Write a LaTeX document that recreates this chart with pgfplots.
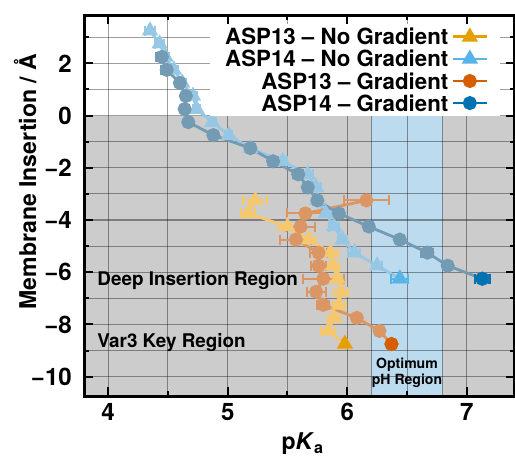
\documentclass[border=0pt]{standalone}
\usepackage{pgfplots}
\pgfplotsset{compat=1.18}
\usepackage{pgfplotstable}
\usepackage{fontspec}
\setmainfont{TeX Gyre Heros}
\definecolor{c13n}{HTML}{E69F00}
\definecolor{c14n}{HTML}{56B4E9}
\definecolor{c13g}{HTML}{D55E00}
\definecolor{c14g}{HTML}{0072B2}
\definecolor{f13n}{HTML}{F5C86E}
\definecolor{f14n}{HTML}{96C8E6}
\definecolor{f13g}{HTML}{DC9664}
\definecolor{f14g}{HTML}{739BB4}
\definecolor{bggrey}{HTML}{CCCCCC}
\definecolor{phblue}{HTML}{BDDBEE}

\pgfplotstableread{
x y ex
4.45 2.25 0.05
4.49 1.75 0.05
4.60 1.25 0.03
4.65 0.75 0.03
4.64 0.25 0.03
4.67 -0.25 0.03
4.88 -0.75 0.03
5.19 -1.25 0.04
5.38 -1.75 0.04
5.59 -2.25 0.04
5.67 -2.75 0.03
5.75 -3.25 0.03
5.93 -3.75 0.03
6.18 -4.25 0.03
6.44 -4.75 0.03
6.67 -5.25 0.05
6.84 -5.75 0.03
7.13 -6.25 0.06
}\tabBgr

\pgfplotstableread{
x y ex
4.35 3.25 0.04
4.43 2.75 0.04
4.48 2.25 0.03
4.55 1.75 0.03
4.62 1.25 0.03
4.71 0.75 0.03
4.74 0.25 0.03
4.87 -0.25 0.03
5.01 -0.75 0.03
5.19 -1.25 0.03
5.46 -1.75 0.04
5.67 -2.25 0.04
5.74 -2.75 0.04
5.75 -3.25 0.04
5.82 -3.75 0.04
5.89 -4.25 0.04
5.96 -4.75 0.04
6.06 -5.25 0.05
6.25 -5.75 0.04
6.44 -6.25 0.07
}\tabBno

\pgfplotstableread{
x y ex
6.16 -3.25 0.19
5.65 -3.75 0.15
5.61 -4.25 0.12
5.57 -4.75 0.13
5.76 -5.25 0.07
5.76 -5.75 0.06
5.80 -6.25 0.17
5.74 -6.75 0.08
5.80 -7.25 0.05
6.08 -7.75 0.03
6.27 -8.25 0.03
6.37 -8.75 0.02
}\tabAgr

\pgfplotstableread{
x y ex
5.23 -3.25 0.10
5.17 -3.75 0.06
5.50 -4.25 0.08
5.68 -4.75 0.06
5.86 -5.25 0.06
5.88 -5.75 0.05
5.92 -6.25 0.05
5.95 -6.75 0.06
5.93 -7.25 0.05
5.89 -7.75 0.05
5.84 -8.25 0.06
5.98 -8.75 0.02
}\tabAno

\tikzset{gridln/.style={black, draw opacity=0.38, line width=0.5pt}}
\pgfplotsset{
  ser/.style={line width=1.4pt, mark options={solid},
    error bars/x dir=both, error bars/x explicit,
    error bars/error bar style={line width=1pt},
    error bars/error mark options={rotate=90, line width=1pt, mark size=2.5pt}},
  tri/.style={mark=triangle*, mark size=3.3pt},
  circ/.style={mark=*, mark size=2.8pt},
}

\begin{document}
\begin{tikzpicture}
\begin{axis}[
  name=ax,
  set layers=standard,
  scale only axis, width=214.5pt, height=190pt,
  xmin=3.8, xmax=7.4, ymin=-10.75, ymax=3.85,
  xtick={4,5,6,7}, minor xtick={4.5,5.5,6.5},
  ytick={-10,-8,-6,-4,-2,0,2}, minor ytick={-9,-7,-5,-3,-1,1,3},
  yticklabels={−10,−8,−6,−4,−2,0,2},
  tick pos=both, xticklabel pos=lower, yticklabel pos=left,
  tick align=inside, major tick length=4.5pt, minor tick length=2.5pt,
  tick style={line width=1pt, black},
  axis line style={line width=1.5pt},
  grid=both,
  major grid style={gridln},
  minor grid style={gridln},
  /pgf/number format/assume math mode=true,
  tick label style={font=\bfseries\fontsize{12}{14}\selectfont},
  xticklabel style={anchor=north, inner sep=0pt, yshift=-3.25pt},
  yticklabel style={anchor=east, inner sep=0pt, xshift=-6pt},
  xlabel={p\textit{K}\textsubscript{a}},
  ylabel={Membrane Insertion / Å},
  label style={font=\bfseries\fontsize{11.5}{13}\selectfont},
  xlabel style={at={(axis description cs:0.508,-0.125)}, anchor=center},
  ylabel style={at={(axis description cs:-0.1375,0.563)}, anchor=center},
  legend style={at={(axis description cs:0.968,0.978)}, anchor=north east,
    draw=none, fill=white, inner xsep=6pt, inner ysep=1pt,
    font=\bfseries\fontsize{11.1}{13}\selectfont,
    nodes={inner sep=1.5pt, text height=8pt, text depth=0pt},
    row sep=0pt},
  legend cell align=right,
  legend plot pos=right,
]
\begin{pgfonlayer}{axis background}
\fill[bggrey] (axis cs:3.8,0) rectangle (axis cs:7.4,-10.75);
\fill[phblue] (axis cs:6.2,0) rectangle (axis cs:6.8,-10.75);
\end{pgfonlayer}
\draw[gridln] (axis cs:6.2,0) -- (axis cs:6.2,-10.75);
\draw[gridln] (axis cs:6.8,0) -- (axis cs:6.8,-10.75);

\addlegendimage{c13n, line width=1.4pt, tri}
\addlegendentry{ASP13 -- No Gradient}
\addlegendimage{c14n, line width=1.4pt, tri}
\addlegendentry{ASP14 -- No Gradient}
\addlegendimage{c13g, line width=1.4pt, circ}
\addlegendentry{ASP13 -- Gradient}
\addlegendimage{c14g, line width=1.4pt, circ}
\addlegendentry{ASP14 -- Gradient}

\addplot[forget plot, f13n, tri, ser] table[x=x, y=y, x error=ex] {\tabAno};
\addplot[forget plot, c13n, tri, only marks, ser] coordinates {(5.98,-8.75) +- (0.02,0)};

\addplot[forget plot, f14n, tri, ser] table[x=x, y=y, x error=ex] {\tabBno};
\addplot[forget plot, c14n, tri, only marks, ser] coordinates {(6.44,-6.25) +- (0.07,0)};

\addplot[forget plot, f13g, circ, ser] table[x=x, y=y, x error=ex] {\tabAgr};
\addplot[forget plot, c13g, circ, only marks, ser] coordinates {(6.37,-8.75) +- (0.02,0)};

\addplot[forget plot, f14g, circ, ser] table[x=x, y=y, x error=ex] {\tabBgr};
\addplot[forget plot, c14g, circ, only marks, ser] coordinates {(7.13,-6.25) +- (0.06,0)};

\node[anchor=base west, inner sep=0pt, font=\bfseries\fontsize{9.4}{11}\selectfont] at (axis cs:3.907,-6.5) {Deep Insertion Region};
\node[anchor=base west, inner sep=0pt, font=\bfseries\fontsize{9.4}{11}\selectfont] at (axis cs:3.907,-8.9) {Var3 Key Region};
\node[anchor=base, inner sep=0pt, font=\bfseries\fontsize{7}{8}\selectfont] at (axis cs:6.5,-9.69) {Optimum};
\node[anchor=base, inner sep=0pt, font=\bfseries\fontsize{7}{8}\selectfont] at (axis cs:6.5,-10.3) {pH Region};
\end{axis}
\pgfresetboundingbox
\useasboundingbox ([shift={(-42pt,-33pt)}]ax.south west) rectangle ([shift={(0.2pt,7.5pt)}]ax.north east);
\end{tikzpicture}
\end{document}
